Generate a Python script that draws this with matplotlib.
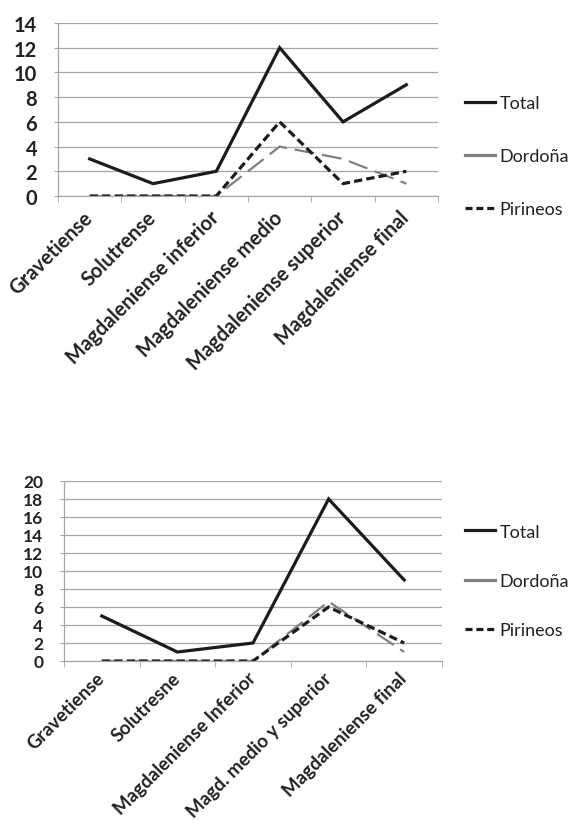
import matplotlib
matplotlib.use("Agg")
import matplotlib.pyplot as plt
from matplotlib.lines import Line2D
from matplotlib.ticker import MultipleLocator, FixedLocator

plt.rcParams['font.family'] = ['Lato', 'DejaVu Sans']

# grafico superior
periodos_1 = ["Gravetiense", "Solutrense", "Magdaleniense inferior",
              "Magdaleniense medio", "Magdaleniense superior", "Magdaleniense final"]
total_1 = [3, 1, 2, 12, 6, 9]
dordona_1 = [0, 0, 0, 4, 3, 1]
pirineos_1 = [0, 0, 0, 6, 1, 2]

# grafico inferior
periodos_2 = ["Gravetiense", "Solutresne", "Magdaleniense Inferior",
              "Magd. medio y superior", "Magdaleniense final"]
total_2 = [5, 1, 2, 18, 9]
dordona_2 = [0, 0, 0, 6.6, 1]
pirineos_2 = [0, 0, 0, 6, 2]

GRID = "#a6a6a6"
GRAY = "#808080"
BLACK = "#1c1c1c"


def dibujar(ax, periodos, total, dordona, pirineos, ymax, leg_y, spacing,
            xsize, ysize, xpad):
    n = len(periodos)
    x = range(n)
    ax.plot(x, dordona, color=GRAY, lw=1.6, dashes=(9, 3.5), label="Dordoña")
    ax.plot(x, pirineos, color=BLACK, lw=2.3, dashes=(2.6, 1.3), label="Pirineos")
    ax.plot(x, total, color=BLACK, lw=2.3, label="Total", solid_joinstyle="miter")

    ax.set_xlim(-0.5, n - 0.5)
    ax.set_ylim(0, ymax)
    ax.yaxis.set_major_locator(MultipleLocator(2))
    ax.grid(axis="y", color=GRID, lw=0.9)
    ax.set_axisbelow(True)

    for s in ["top", "right"]:
        ax.spines[s].set_visible(False)
    for s in ["left", "bottom"]:
        ax.spines[s].set_color(GRID)
        ax.spines[s].set_linewidth(0.9)

    ax.xaxis.set_major_locator(FixedLocator(list(x)))
    ax.xaxis.set_minor_locator(FixedLocator([i - 0.5 for i in range(n + 1)]))
    ax.set_xticklabels(periodos, rotation=45, ha="right", va="center",
                       rotation_mode="anchor", fontsize=xsize, fontweight="bold",
                       color="#222222")
    ax.tick_params(axis="x", which="major", length=0, pad=xpad)
    ax.tick_params(axis="x", which="minor", length=4, color=GRID, direction="out")
    ax.tick_params(axis="y", length=3, color=GRID, pad=12, labelsize=ysize,
                   labelcolor="#222222")
    for t in ax.get_yticklabels():
        t.set_fontweight("bold")

    handles = [Line2D([], [], color=BLACK, lw=2.3),
               Line2D([], [], color=GRAY, lw=2.3),
               Line2D([], [], color=BLACK, lw=2.3, dashes=(2.2, 1.2))]
    leg = ax.figure.legend(handles, ["Total", "Dordoña", "Pirineos"],
                           loc="center left", bbox_to_anchor=(465 / 575, leg_y),
                           frameon=False, fontsize=13, handlelength=1.65,
                           handletextpad=0.25, labelspacing=spacing,
                           borderpad=0, borderaxespad=0)
    for t in leg.get_texts():
        t.set_color("#222222")


fig = plt.figure(figsize=(5.75, 8.29), dpi=100)
ax1 = fig.add_axes([58 / 575, 1 - 197 / 829, 380 / 575, 173 / 829])
ax2 = fig.add_axes([64 / 575, 1 - 662 / 829, 378 / 575, 180 / 829])

dibujar(ax1, periodos_1, total_1, dordona_1, pirineos_1, 14, 1 - 157 / 829, 2.05,
        14.5, 14.5, 13)
dibujar(ax2, periodos_2, total_2, dordona_2, pirineos_2, 20, 1 - 582 / 829, 1.85,
        13.5, 12.5, 10)

fig.savefig("out.png", dpi=100)
